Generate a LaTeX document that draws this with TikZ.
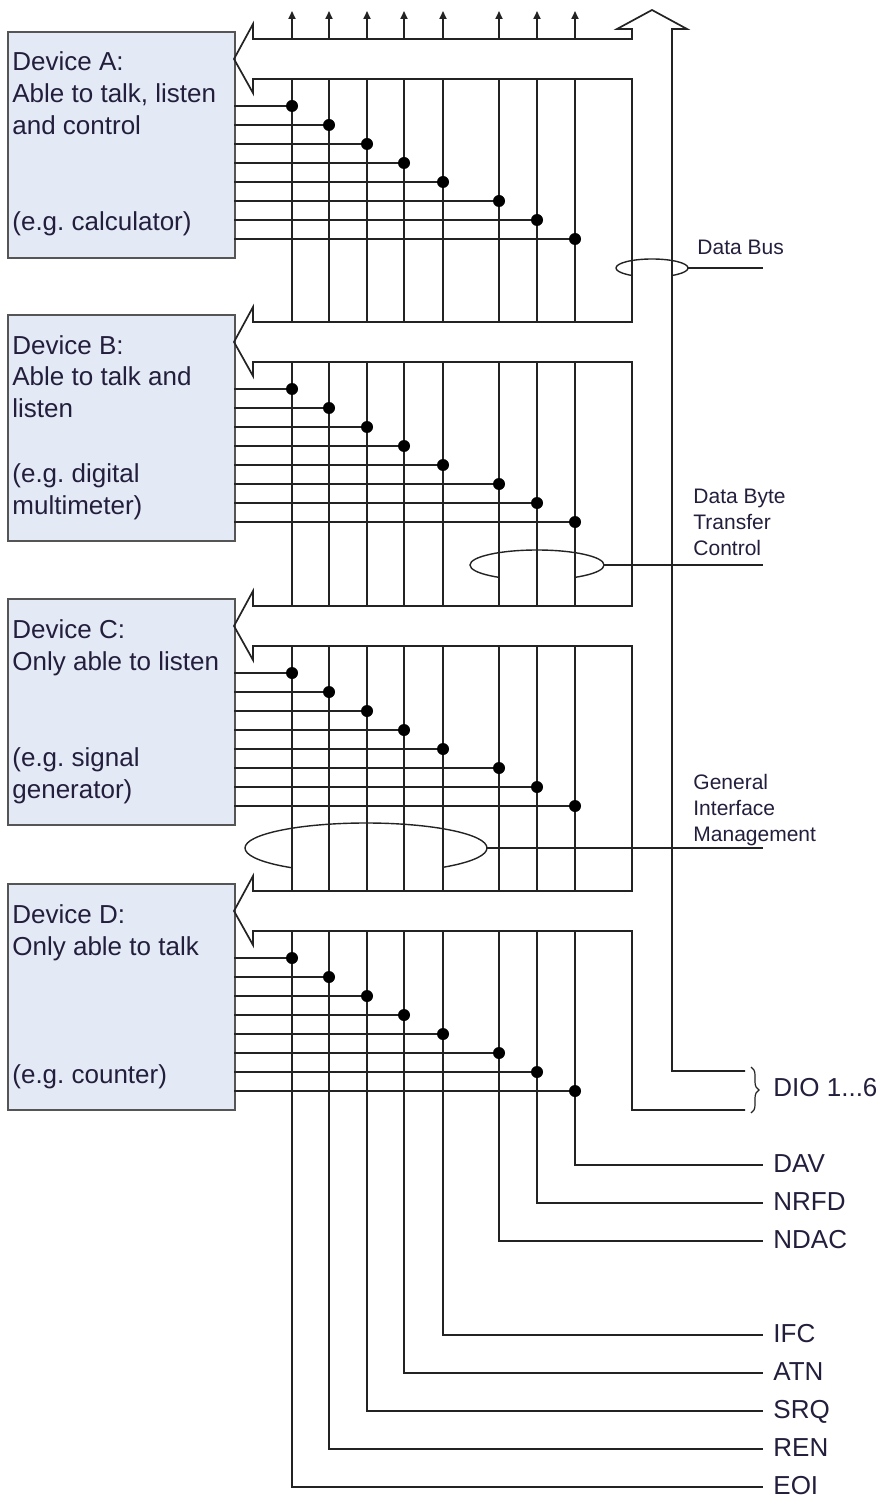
\documentclass[tikz,border=0pt]{standalone}
\usepackage{fontspec}
\setmainfont{Liberation Sans}
\usetikzlibrary{decorations.pathreplacing,arrows.meta}
\definecolor{boxfill}{RGB}{227,234,246}
\definecolor{boxline}{RGB}{85,85,85}
\definecolor{wirec}{RGB}{35,35,35}
\definecolor{txt}{RGB}{35,30,60}
\frenchspacing
\begin{document}
\begin{tikzpicture}[x=0.5pt,y=-0.5pt,
  wire/.style={draw=wirec, line width=0.85pt},
  devbox/.style={draw=boxline, fill=boxfill, line width=1pt, minimum width=113.5pt, minimum height=113pt, inner sep=0pt, anchor=north west},
  devtext/.style={font=\fontsize{13}{16}\selectfont, text=txt, align=left, anchor=base west, inner sep=0pt},
  smalllab/.style={font=\fontsize{10.5}{13}\selectfont, text=txt, align=left, anchor=base west, inner sep=0pt},
  siglab/.style={font=\fontsize{13}{16}\selectfont, text=txt, anchor=base west, inner sep=0pt},
  jdot/.style={circle, fill=black, inner sep=0pt, minimum size=6pt},
  lasso/.style={draw=wirec, line width=0.7pt}]
\useasboundingbox (0,0) rectangle (878,1497);

% device boxes
\node[devbox] (devA) at (7,31) {};
\node[devbox] (devB) at (7,314) {};
\node[devbox] (devC) at (7,598) {};
\node[devbox] (devD) at (7,883) {};

% (base anchor = baseline of the last line)
\node[devtext] (txtA) at (12,231) {Device A:\\Able to talk, listen\\and control\\[32pt](e.g. calculator)};
\node[devtext] (txtB) at (12,514) {Device B:\\Able to talk and\\listen\\[16pt](e.g. digital\\multimeter)};
\node[devtext] (txtC) at (12,798) {Device C:\\Only able to listen\\[32pt](e.g. signal\\generator)};
\node[devtext] (txtD) at (12,1083) {Device D:\\Only able to talk\\[48pt](e.g. counter)};

% hollow bus arrows (outer contour + inner contour)
\draw[wire, line join=miter] (745,1071) -- (672,1071) -- (672,29) -- (687,29) -- (652,10) -- (617,29) -- (632,29) -- (632,39)
  -- (253,39) -- (253,24) -- (234,59) -- (253,93) -- (253,79) -- (632,79)
  -- (632,322) -- (253,322) -- (253,307) -- (234,342) -- (253,376) -- (253,362) -- (632,362)
  -- (632,606) -- (253,606) -- (253,591) -- (234,626) -- (253,660) -- (253,646) -- (632,646)
  -- (632,891) -- (253,891) -- (253,876) -- (234,911) -- (253,945) -- (253,931) -- (632,931)
  -- (632,1110) -- (745,1110);

% vertical signal lines
\foreach \x/\ly/\lab/\nm in {292/1487/EOI/eoi, 329/1449/REN/ren, 367/1411/SRQ/srq, 404/1373/ATN/atn, 443/1335/IFC/ifc, 499/1241/NDAC/ndac, 537/1203/NRFD/nrfd, 575/1165/DAV/dav}{
  \draw[wire, -{Triangle[length=4pt,width=3.5pt]}] (\x,39) -- (\x,11);
  \draw[wire] (\x,79) -- (\x,322);
  \draw[wire] (\x,362) -- (\x,606);
  \draw[wire] (\x,646) -- (\x,891);
  \coordinate (end-\nm) at (763,\ly);
  \node[siglab] (lab-\nm) at (773,\ly+7) {\lab};
  \draw[wire] (\x,931) -- (\x,\ly) -- (end-\nm);
}

% device connection lines and junction dots
\foreach \T in {31,314,598,883}{
  \foreach \x [count=\i from 0] in {292,329,367,404,443,499,537,575}{
    \draw[wire] (234,\T+75+19*\i) -- (\x,\T+75+19*\i);
    \node[jdot] at (\x,\T+75+19*\i) {};
  }
}

% Data Bus lasso
\begin{scope}
  \clip (0,0) rectangle (878,268) (0,268) rectangle (632,1497) (672,268) rectangle (878,1497);
  \draw[lasso] (652,268) ellipse [x radius=18pt, y radius=4.5pt];
\end{scope}
\coordinate (busR) at (688,268);
\coordinate (busE) at (763,268);
\draw[wire] (busR) -- (busE);
\node[smalllab] (lbus) at (697,255) {Data Bus};

% Data Byte Transfer Control lasso
\begin{scope}
  \clip (0,0) rectangle (878,565) (0,565) rectangle (499,1497) (575,565) rectangle (878,1497);
  \draw[lasso] (537,565) ellipse [x radius=33.5pt, y radius=7.5pt];
\end{scope}
\coordinate (dbR) at (604,565);
\coordinate (dbE) at (763,565);
\draw[wire] (dbR) -- (dbE);
\node[smalllab] (ldb) at (693,555) {Data Byte\\Transfer\\Control};

% General Interface Management lasso
\begin{scope}
  \clip (0,0) rectangle (878,848) (0,848) rectangle (292,1497) (443,848) rectangle (878,1497);
  \draw[lasso] (366,848) ellipse [x radius=60.5pt, y radius=12.5pt];
\end{scope}
\coordinate (gimR) at (487,848);
\coordinate (gimE) at (763,848);
\draw[wire] (gimR) -- (gimE);
\node[smalllab] (lgim) at (693,841) {General\\Interface\\Management};

% DIO brace
\coordinate (brT) at (751,1067);
\coordinate (brB) at (751,1113);
\draw[wirec, line width=0.6pt, decorate, decoration={brace, amplitude=4pt}] (brT) -- (brB);
\node[siglab] (ldio) at (773,1096) {DIO 1...6};
\end{tikzpicture}
\end{document}
